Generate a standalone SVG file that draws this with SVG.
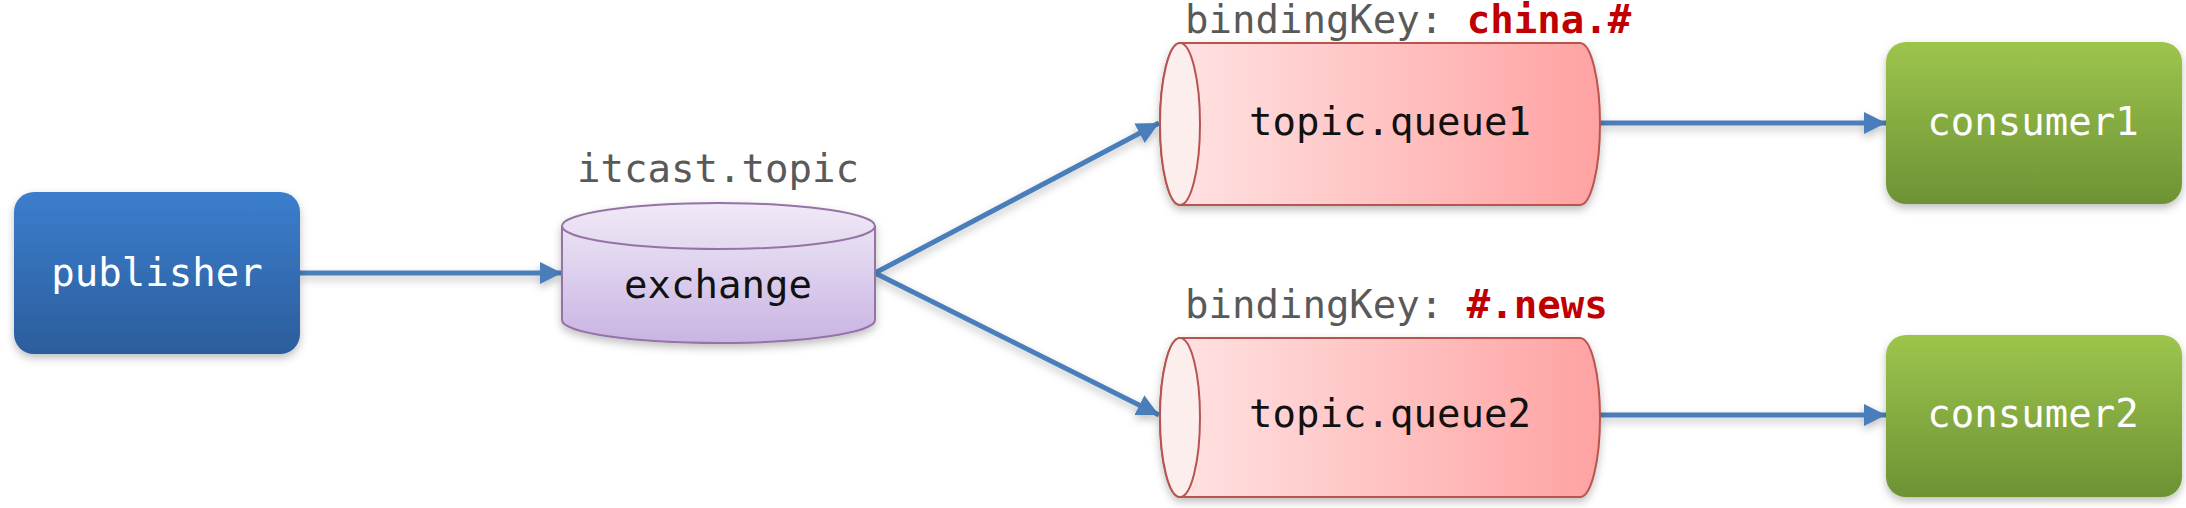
<svg xmlns="http://www.w3.org/2000/svg" width="2186" height="508" viewBox="0 0 2186 508">
<style>
  text { font-family: "DejaVu Sans Mono", "Liberation Mono", monospace; font-size: 39px; }
  .lbl { fill: #595959; }
  .key { fill: #c00000; font-weight: bold; }
  .white { fill: #ffffff; text-anchor: middle; }
  .dark { fill: #111111; text-anchor: middle; }
  .conn { stroke: #4a7ebb; stroke-width: 5; fill: none; marker-end: url(#arrow); }
</style>
<defs>
  <linearGradient id="gBlue" x1="0" y1="0" x2="0" y2="1">
    <stop offset="0" stop-color="#3b7ecd"/>
    <stop offset="1" stop-color="#2c5d9c"/>
  </linearGradient>
  <linearGradient id="gGreen" x1="0" y1="0" x2="0" y2="1">
    <stop offset="0" stop-color="#9dc54c"/>
    <stop offset="1" stop-color="#6d9235"/>
  </linearGradient>
  <linearGradient id="gPurple" x1="0" y1="0" x2="0" y2="1">
    <stop offset="0" stop-color="#f0eaf7"/>
    <stop offset="1" stop-color="#c9b4e3"/>
  </linearGradient>
  <linearGradient id="gRed" x1="0" y1="0" x2="1" y2="0">
    <stop offset="0" stop-color="#ffe4e4"/>
    <stop offset="1" stop-color="#ffa2a2"/>
  </linearGradient>
  <filter id="shadow" x="-10%" y="-10%" width="120%" height="130%">
    <feDropShadow dx="0" dy="4" stdDeviation="4" flood-color="#000" flood-opacity="0.25"/>
  </filter>
  <marker id="arrow" markerUnits="userSpaceOnUse" markerWidth="24" markerHeight="24" refX="22" refY="11" orient="auto">
    <path d="M0,0 L22,11 L0,22 Z" fill="#4a7ebb"/>
  </marker>
</defs>

<g id="connectors" filter="url(#shadow)">
  <line class="conn" x1="300" y1="273" x2="562" y2="273"/>
  <line class="conn" x1="875" y1="273" x2="1159" y2="123"/>
  <line class="conn" x1="875" y1="273" x2="1159" y2="415"/>
  <line class="conn" x1="1600" y1="123" x2="1886" y2="123"/>
  <line class="conn" x1="1600" y1="415" x2="1886" y2="415"/>
</g>

<g id="publisher">
  <rect x="14" y="192" width="286" height="162" rx="20" fill="url(#gBlue)" filter="url(#shadow)"/>
  <text class="white" x="157" y="286">publisher</text>
</g>

<g id="exchange">
  <path d="M562,226 L562,320 A156.5,23 0 0 0 875,320 L875,226 A156.5,23 0 0 0 562,226 Z" fill="url(#gPurple)" stroke="#9673a6" stroke-width="2" filter="url(#shadow)"/>
  <path d="M562,226 A156.5,23 0 0 0 875,226" fill="none" stroke="#9673a6" stroke-width="2"/>
  <text class="lbl" x="718" y="182" text-anchor="middle">itcast.topic</text>
  <text class="dark" x="718" y="298">exchange</text>
</g>

<g id="queue1">
  <path d="M1180,43 L1580,43 A20,81 0 0 1 1580,205 L1180,205 A20,81 0 0 1 1180,43 Z" fill="url(#gRed)" stroke="#b85450" stroke-width="2" filter="url(#shadow)"/>
  <ellipse cx="1180" cy="124" rx="20" ry="81" fill="#fdeeee" stroke="#b85450" stroke-width="2"/>
  <text class="lbl" x="1185" y="33">bindingKey: <tspan class="key">china.#</tspan></text>
  <text class="dark" x="1390" y="135">topic.queue1</text>
</g>

<g id="queue2">
  <path d="M1180,338 L1580,338 A20,79.5 0 0 1 1580,497 L1180,497 A20,79.5 0 0 1 1180,338 Z" fill="url(#gRed)" stroke="#b85450" stroke-width="2" filter="url(#shadow)"/>
  <ellipse cx="1180" cy="417.5" rx="20" ry="79.5" fill="#fdeeee" stroke="#b85450" stroke-width="2"/>
  <text class="lbl" x="1185" y="318">bindingKey: <tspan class="key">#.news</tspan></text>
  <text class="dark" x="1390" y="427">topic.queue2</text>
</g>

<g id="consumer1">
  <rect x="1886" y="42" width="296" height="162" rx="20" fill="url(#gGreen)" filter="url(#shadow)"/>
  <text class="white" x="2033" y="135">consumer1</text>
</g>

<g id="consumer2">
  <rect x="1886" y="335" width="296" height="162" rx="20" fill="url(#gGreen)" filter="url(#shadow)"/>
  <text class="white" x="2033" y="427">consumer2</text>
</g>
</svg>
